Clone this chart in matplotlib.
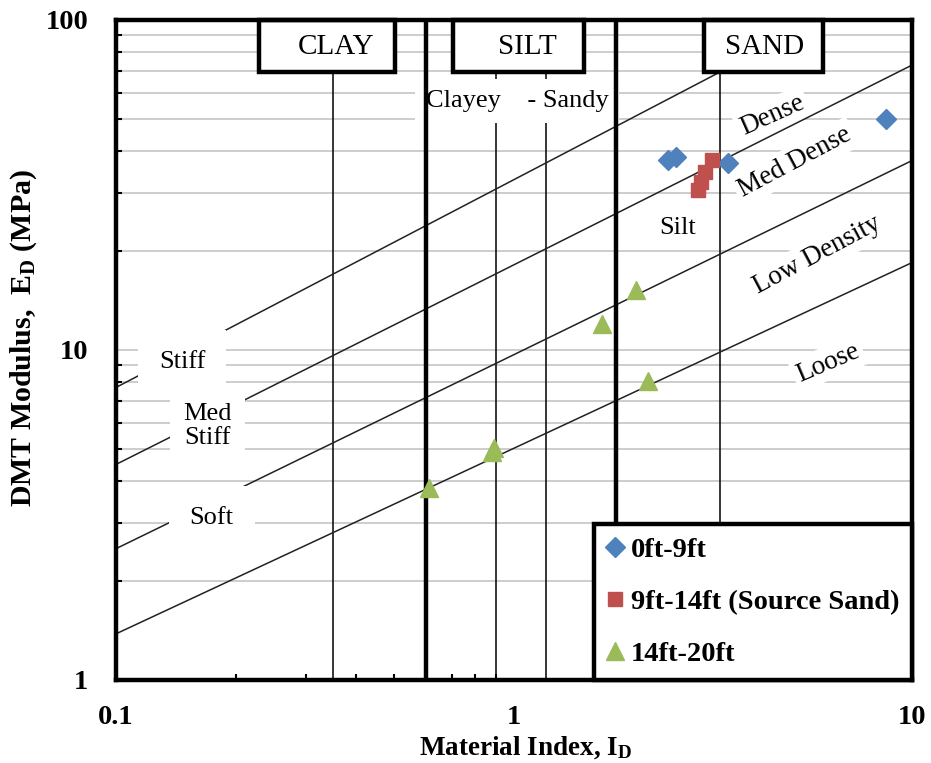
import matplotlib.pyplot as plt
import numpy as np
from matplotlib.patches import Rectangle
from matplotlib.ticker import LogLocator, NullFormatter, FixedLocator, FixedFormatter

plt.rcParams['font.family'] = ['Liberation Serif', 'DejaVu Serif']

# measured DMT points (ID, ED)
id_0_9 = [2.44, 2.55, 3.45, 8.6]
ed_0_9 = [37.6, 38.4, 36.9, 50.1]

id_9_14 = [3.14, 3.02, 2.95, 2.90]
ed_9_14 = [37.6, 34.6, 32.3, 30.5]

id_14_20 = [2.03, 1.66, 2.17, 0.88, 0.89, 0.61]
ed_14_20 = [15.2, 12.0, 8.05, 4.9, 5.05, 3.82]

# soil type boundaries on the ID axis
thin_bounds = [0.35, 0.9, 1.2, 3.3]
thick_bounds = [0.6, 1.8]

# consistency / density boundary lines, ED at ID = 0.1 and ID = 10
line_x = [0.1, 10]
line_ed = [[7.7, 140.0], [4.5, 73.0], [2.5, 37.5], [1.38, 18.4]]

# zone header boxes: (left ID, right ID, bottom ED, text, text ID)
zones = [(0.229, 0.502, 69.6, 'CLAY', 0.357),
         (0.703, 1.50, 69.6, 'SILT', 1.08),
         (3.00, 5.97, 69.6, 'SAND', 4.27)]

fig = plt.figure(figsize=(9.31, 7.63), dpi=100)
ax = fig.add_axes([0.1246, 0.1088, 0.855, 0.865])
ax.set_xscale('log')
ax.set_yscale('log')
ax.set_xlim(0.1, 10)
ax.set_ylim(1, 100)

# horizontal grid only
ax.set_axisbelow(True)
ax.yaxis.set_minor_locator(LogLocator(base=10, subs=np.arange(2, 10)))
ax.yaxis.set_minor_formatter(NullFormatter())
ax.xaxis.set_minor_locator(LogLocator(base=10, subs=np.arange(2, 10)))
ax.xaxis.set_minor_formatter(NullFormatter())
ax.grid(True, which='both', axis='y', color='#c0c0c0', lw=1.1)
ax.grid(False, axis='x', which='both')

for xb in thin_bounds:
    ax.axvline(xb, color='black', lw=1.1, zorder=1.5)
for xb in thick_bounds:
    ax.axvline(xb, color='black', lw=3.2, zorder=3)

for ed in line_ed:
    ax.plot(line_x, ed, color='#222222', lw=1.1, zorder=2)

for x0, x1, yb, name, xt in zones:
    ax.add_patch(Rectangle((x0, yb), x1 - x0, 100 - yb, facecolor='white',
                           edgecolor='black', lw=3.2, zorder=4, clip_on=False))
    ax.text(xt, 83, name, fontsize=21, ha='center', va='center', zorder=4.5)

# region labels, white boxes break the grid behind them
white = dict(boxstyle='square,pad=0.8', fc='white', ec='none')
ax.text(1.02, 56.8, 'Clayey    - Sandy', fontsize=19, ha='center', va='center',
        zorder=2.5, bbox=dict(boxstyle='square,pad=0.4', fc='white', ec='none'))
ax.text(2.58, 23.4, 'Silt', fontsize=19, ha='center', va='center', zorder=2.5)
ax.text(0.1466, 9.2, 'Stiff', fontsize=19, ha='center', va='center', zorder=2.5, bbox=white)
ax.text(0.170, 5.89, 'Med\nStiff', fontsize=19, ha='center', va='center',
        linespacing=1.1, zorder=2.5, bbox=dict(boxstyle='square,pad=0.5', fc='white', ec='none'))
ax.text(0.174, 3.1, 'Soft', fontsize=19, ha='center', va='center', zorder=2.5, bbox=white)

small = dict(boxstyle='square,pad=0.15', fc='white', ec='none')
ax.text(4.45, 51.5, 'Dense', fontsize=19.5, rotation=24, ha='center', va='center',
        rotation_mode='anchor', zorder=1.8, bbox=small)
ax.text(5.08, 37.1, 'Med Dense', fontsize=19.5, rotation=28, ha='center', va='center',
        rotation_mode='anchor', zorder=1.8, bbox=small)
ax.text(5.77, 19.4, 'Low Density', fontsize=19.5, rotation=28, ha='center', va='center',
        rotation_mode='anchor', zorder=1.8, bbox=small)
ax.text(6.15, 9.14, 'Loose', fontsize=19.5, rotation=23, ha='center', va='center',
        rotation_mode='anchor', zorder=1.8, bbox=small)

ax.plot(id_0_9, ed_0_9, 'D', color='#4f81bd', ms=10.5, mec='#4f81bd', ls='none',
        label='0ft-9ft', zorder=5, clip_on=False)
ax.plot(id_9_14, ed_9_14, 's', color='#c0504d', ms=10.5, mec='#c0504d', ls='none',
        label='9ft-14ft (Source Sand)', zorder=5)
ax.plot(id_14_20, ed_14_20, '^', color='#9bbb59', ms=13.5, mec='#9bbb59', ls='none',
        label='14ft-20ft', zorder=5)

leg = ax.legend(loc='lower right', bbox_to_anchor=(1.0, 0.0), borderaxespad=0,
                frameon=True, fancybox=False, framealpha=1, edgecolor='black',
                prop={'family': 'Liberation Serif', 'weight': 'bold', 'size': 20.5},
                handlelength=0.6, handletextpad=0.25, labelspacing=0.92,
                borderpad=0.45)
leg.get_frame().set_linewidth(3.2)
leg.set_zorder(6)

for s in ax.spines.values():
    s.set_linewidth(3.2)
    s.set_zorder(6)

ax.xaxis.set_major_locator(FixedLocator([0.1, 1, 10]))
ax.xaxis.set_major_formatter(FixedFormatter(['0.1', '1', '10']))
ax.yaxis.set_major_locator(FixedLocator([1, 10, 100]))
ax.yaxis.set_major_formatter(FixedFormatter(['1', '10', '100']))
ax.tick_params(which='major', length=0, labelsize=20.5)
ax.tick_params(axis='x', which='major', pad=18)
ax.tick_params(axis='y', which='major', pad=20)
ax.tick_params(which='minor', direction='in', length=4, width=1.5)
for lab in ax.get_xticklabels() + ax.get_yticklabels():
    lab.set_fontweight('bold')

ax.set_xlabel('Material Index, $\\mathregular{I_D}$', fontsize=19.5, fontweight='bold')
ax.set_ylabel('DMT Modulus,  $\\mathregular{E_D}$ (MPa)', fontsize=21.5, fontweight='bold')
ax.xaxis.set_label_coords(0.514, -0.083)
ax.yaxis.set_label_coords(-0.097, 0.518)

fig.savefig('out.png', dpi=100)
